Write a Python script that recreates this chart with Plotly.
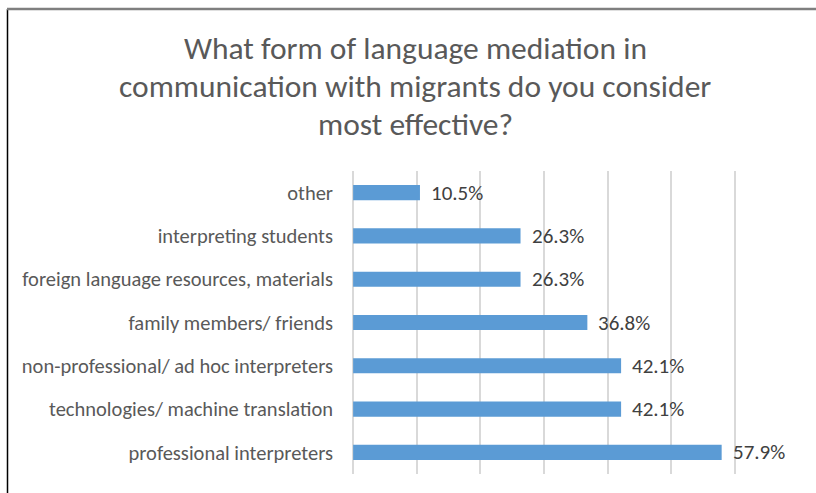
import plotly.graph_objects as go

categories = [
    "professional interpreters",
    "technologies/ machine translation",
    "non-professional/ ad hoc interpreters",
    "family members/ friends",
    "foreign language resources, materials",
    "interpreting students",
    "other",
]
values = [57.9, 42.1, 42.1, 36.8, 26.3, 26.3, 10.5]
labels = ["57.9%", "42.1%", "42.1%", "36.8%", "26.3%", "26.3%", "10.5%"]
title_lines = [
    "What form of language mediation in",
    "communication with migrants do you consider",
    "most effective?",
]

FONT = "Calibri, Carlito, Lato, sans-serif"
W, H = 816, 493
L, R, T, B = 353, 17, 171, 19

fig = go.Figure()
fig.add_trace(go.Bar(
    x=values, y=categories, orientation="h",
    marker=dict(color="#5b9bd5", line=dict(width=0)),
    width=0.35, hoverinfo="skip",
))

for v, c, t in zip(values, categories, labels):
    fig.add_annotation(x=v, y=c, text=t, showarrow=False, xanchor="left",
                       xshift=9, font=dict(family=FONT, size=21, color="#404040"))

pw = W - L - R
ph = H - T - B
title_y = [48, 86, 124]
for line, yy in zip(title_lines, title_y):
    fig.add_annotation(xref="paper", yref="paper", x=(415 - L) / pw, y=(H - B - yy) / ph,
                       text=line, showarrow=False, xanchor="center", yanchor="middle",
                       font=dict(family=FONT, size=31.5, color="#595959"))

# chart frame (left and top edges)
fig.add_shape(type="line", xref="paper", yref="paper",
              x0=(7.5 - L) / pw, x1=(7.5 - L) / pw, y0=(H - B - 9) / ph, y1=(H - B - 500) / ph,
              line=dict(color="#000000", width=1.5))
fig.add_shape(type="line", xref="paper", yref="paper",
              x0=(7 - L) / pw, x1=(830 - L) / pw, y0=(H - B - 9) / ph, y1=(H - B - 9) / ph,
              line=dict(color="#7f7f7f", width=2.5))

fig.update_layout(
    width=W, height=H,
    margin=dict(l=L, r=R, t=T, b=B),
    paper_bgcolor="white", plot_bgcolor="white",
    showlegend=False,
    xaxis=dict(range=[-0.02, 70.05], dtick=10, showgrid=True, gridcolor="#d9d9d9", gridwidth=1.5,
               showticklabels=False, zeroline=True, zerolinecolor="#d9d9d9", zerolinewidth=1.5,
               showline=False, fixedrange=True),
    yaxis=dict(categoryorder="array", categoryarray=categories, showgrid=False,
               tickfont=dict(family=FONT, size=20.5, color="#595959"),
               ticklabelstandoff=19, showline=False, zeroline=False, fixedrange=True),
)

fig.write_html("out.html", config={"displayModeBar": False},
               post_script="document.body.style.margin='0';document.body.style.overflow='hidden';")
